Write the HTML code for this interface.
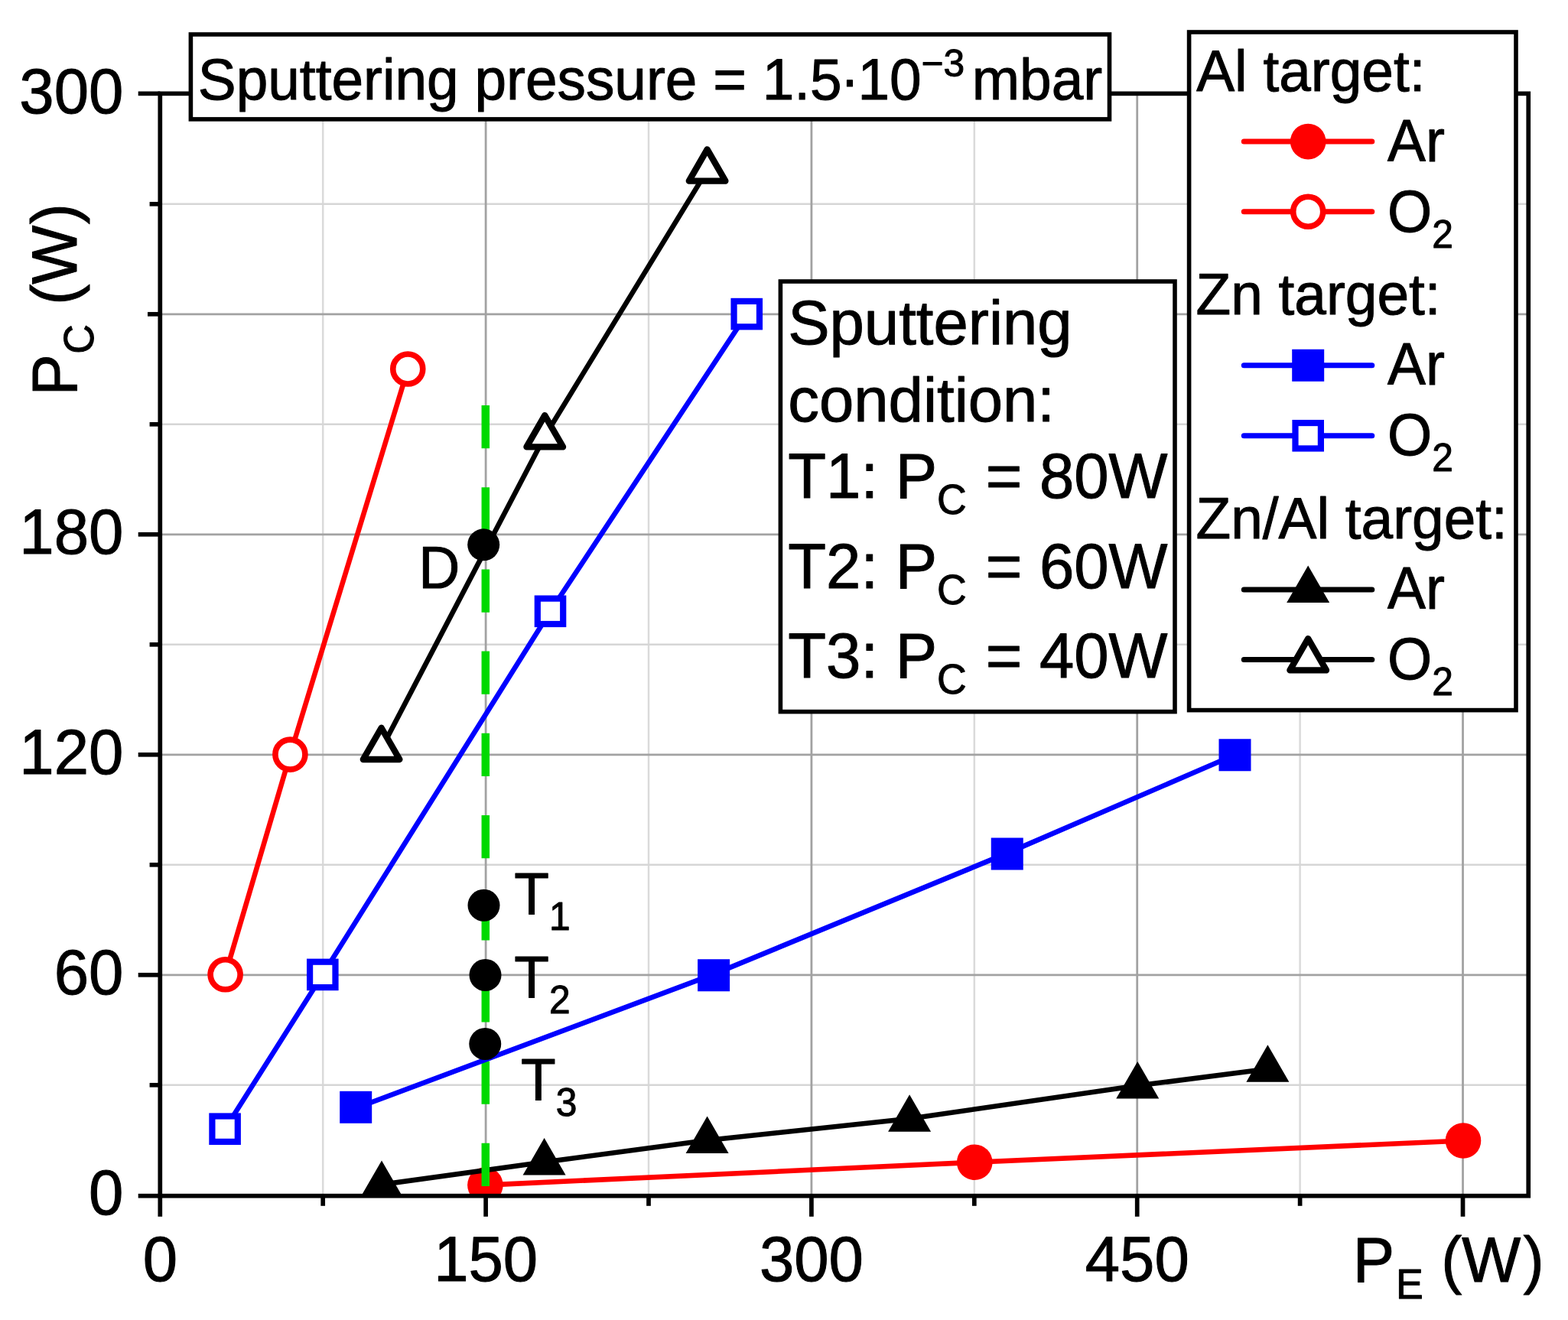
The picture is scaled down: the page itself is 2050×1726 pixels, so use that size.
<!DOCTYPE html>
<html lang="en">
<head>
<meta charset="utf-8">
<style>html,body{margin:0;padding:0;background:#fff;overflow:hidden;}svg{display:block;}</style>
</head>
<body>
<svg width="2050" height="1726" viewBox="0 0 2050 1726" font-family="'Liberation Sans', sans-serif">
<defs>
<clipPath id="plot"><rect x="209.3" y="122.35" width="1788.95" height="1441.35"/></clipPath>
</defs>
<rect width="2050" height="1726" fill="#fff"/>
<g clip-path="url(#plot)" fill="none">
<g stroke="#dadada" stroke-width="2.5">
<line x1="422.20" y1="122.35" x2="422.20" y2="1563.7"/>
<line x1="848.01" y1="122.35" x2="848.01" y2="1563.7"/>
<line x1="1273.81" y1="122.35" x2="1273.81" y2="1563.7"/>
<line x1="1699.62" y1="122.35" x2="1699.62" y2="1563.7"/>
</g>
<g stroke="#d6d6d6" stroke-width="2.4">
<line x1="209.3" y1="1418.80" x2="1998.25" y2="1418.80"/>
<line x1="209.3" y1="1130.80" x2="1998.25" y2="1130.80"/>
<line x1="209.3" y1="842.80" x2="1998.25" y2="842.80"/>
<line x1="209.3" y1="554.80" x2="1998.25" y2="554.80"/>
<line x1="209.3" y1="266.80" x2="1998.25" y2="266.80"/>
</g>
<g stroke="#a2a2a2" stroke-width="2.8">
<line x1="635.11" y1="122.35" x2="635.11" y2="1563.7"/>
<line x1="1060.91" y1="122.35" x2="1060.91" y2="1563.7"/>
<line x1="1486.71" y1="122.35" x2="1486.71" y2="1563.7"/>
<line x1="1912.52" y1="122.35" x2="1912.52" y2="1563.7"/>
<line x1="209.3" y1="1274.80" x2="1998.25" y2="1274.80"/>
<line x1="209.3" y1="986.80" x2="1998.25" y2="986.80"/>
<line x1="209.3" y1="698.80" x2="1998.25" y2="698.80"/>
<line x1="209.3" y1="410.80" x2="1998.25" y2="410.80"/>
</g>
</g>
<g clip-path="url(#plot)">
<polyline points="634.40,1549.60 1274.25,1519.75 1913.00,1491.50" fill="none" stroke="#f00" stroke-width="6.6" stroke-linejoin="round"/>
<circle cx="634.40" cy="1549.60" r="23.3" fill="#f00"/>
<circle cx="1274.25" cy="1519.75" r="23.3" fill="#f00"/>
<circle cx="1913.00" cy="1491.50" r="23.3" fill="#f00"/>
<polyline points="294.60,1274.30 379.40,986.60 533.25,482.50" fill="none" stroke="#f00" stroke-width="6.6" stroke-linejoin="round"/>
<circle cx="294.60" cy="1274.30" r="19.5" fill="#fff" stroke="#f00" stroke-width="7.6"/>
<circle cx="379.40" cy="986.60" r="19.5" fill="#fff" stroke="#f00" stroke-width="7.6"/>
<circle cx="533.25" cy="482.50" r="19.5" fill="#fff" stroke="#f00" stroke-width="7.6"/>
<polyline points="499.00,1548.90 711.60,1519.50 924.60,1491.00 1189.10,1462.75 1487.25,1419.50 1657.40,1397.75" fill="none" stroke="#000" stroke-width="6.6" stroke-linejoin="round"/>
<path transform="translate(499.00,1548.90)" d="M0,-31.4 L28,17 L-28,17 Z" fill="#000"/>
<path transform="translate(711.60,1519.50)" d="M0,-31.4 L28,17 L-28,17 Z" fill="#000"/>
<path transform="translate(924.60,1491.00)" d="M0,-31.4 L28,17 L-28,17 Z" fill="#000"/>
<path transform="translate(1189.10,1462.75)" d="M0,-31.4 L28,17 L-28,17 Z" fill="#000"/>
<path transform="translate(1487.25,1419.50)" d="M0,-31.4 L28,17 L-28,17 Z" fill="#000"/>
<path transform="translate(1657.40,1397.75)" d="M0,-31.4 L28,17 L-28,17 Z" fill="#000"/>
<line x1="634.8" y1="530" x2="634.8" y2="1563" stroke="#00d900" stroke-width="10.5" stroke-dasharray="56.25 50.94"/>
<polyline points="465.20,1449.00 933.10,1273.90 1316.75,1115.60 1614.50,987.00" fill="none" stroke="#00f" stroke-width="6.6" stroke-linejoin="round"/>
<rect x="444.20" y="1426.80" width="42" height="42" fill="#00f"/>
<rect x="912.10" y="1254.25" width="42" height="42" fill="#00f"/>
<rect x="1295.75" y="1095.50" width="42" height="42" fill="#00f"/>
<rect x="1593.50" y="966.25" width="42" height="42" fill="#00f"/>
<polyline points="294.10,1476.20 421.80,1274.40 719.50,799.30 976.25,410.60" fill="none" stroke="#00f" stroke-width="6.6" stroke-linejoin="round"/>
<rect x="277.40" y="1459.50" width="33.4" height="33.4" fill="#fff" stroke="#00f" stroke-width="8.2"/>
<rect x="405.10" y="1257.70" width="33.4" height="33.4" fill="#fff" stroke="#00f" stroke-width="8.2"/>
<rect x="702.80" y="782.60" width="33.4" height="33.4" fill="#fff" stroke="#00f" stroke-width="8.2"/>
<rect x="959.55" y="393.90" width="33.4" height="33.4" fill="#fff" stroke="#00f" stroke-width="8.2"/>
<polyline points="498.60,979.10 712.25,570.50 924.60,222.75" fill="none" stroke="#000" stroke-width="6.6" stroke-linejoin="round"/>
<path transform="translate(498.60,979.10)" d="M0,-27.4 L23.8,13.9 L-23.8,13.9 Z" fill="#fff" stroke="#000" stroke-width="8.3" stroke-linejoin="round"/>
<path transform="translate(712.25,570.50)" d="M0,-27.4 L23.8,13.9 L-23.8,13.9 Z" fill="#fff" stroke="#000" stroke-width="8.3" stroke-linejoin="round"/>
<path transform="translate(924.60,222.75)" d="M0,-27.4 L23.8,13.9 L-23.8,13.9 Z" fill="#fff" stroke="#000" stroke-width="8.3" stroke-linejoin="round"/>
<circle cx="632.20" cy="712.30" r="21" fill="#000"/>
<circle cx="632.50" cy="1183.75" r="21" fill="#000"/>
<circle cx="634.50" cy="1275.00" r="21" fill="#000"/>
<circle cx="634.25" cy="1365.00" r="21" fill="#000"/>
</g>
<g stroke="#000" stroke-width="5.7" fill="none">
<rect x="209.3" y="122.35" width="1788.95" height="1441.35"/>
<line x1="180.7" y1="1563.70" x2="209.3" y2="1563.70"/>
<line x1="180.7" y1="1274.80" x2="209.3" y2="1274.80"/>
<line x1="180.7" y1="986.80" x2="209.3" y2="986.80"/>
<line x1="180.7" y1="698.80" x2="209.3" y2="698.80"/>
<line x1="180.7" y1="122.35" x2="209.3" y2="122.35"/>
<line x1="193" y1="410.80" x2="209.3" y2="410.80"/>
<line x1="195.6" y1="1418.80" x2="209.3" y2="1418.80"/>
<line x1="195.6" y1="1130.80" x2="209.3" y2="1130.80"/>
<line x1="195.6" y1="842.80" x2="209.3" y2="842.80"/>
<line x1="195.6" y1="554.80" x2="209.3" y2="554.80"/>
<line x1="195.6" y1="266.80" x2="209.3" y2="266.80"/>
<line x1="209.30" y1="1563.7" x2="209.30" y2="1590.8"/>
<line x1="635.11" y1="1563.7" x2="635.11" y2="1590.8"/>
<line x1="1060.91" y1="1563.7" x2="1060.91" y2="1590.8"/>
<line x1="1486.71" y1="1563.7" x2="1486.71" y2="1590.8"/>
<line x1="1912.52" y1="1563.7" x2="1912.52" y2="1590.8"/>
<line x1="422.20" y1="1563.7" x2="422.20" y2="1576.8"/>
<line x1="848.01" y1="1563.7" x2="848.01" y2="1576.8"/>
<line x1="1273.81" y1="1563.7" x2="1273.81" y2="1576.8"/>
<line x1="1699.62" y1="1563.7" x2="1699.62" y2="1576.8"/>
</g>
<g fill="#000" stroke="#000" stroke-width="1.0" stroke-linejoin="round">
<text transform="translate(209.30,1675.30) scale(1,1.03)" font-size="81.5" text-anchor="middle">0</text>
<text transform="translate(635.11,1675.30) scale(1,1.03)" font-size="81.5" text-anchor="middle">150</text>
<text transform="translate(1060.91,1675.30) scale(1,1.03)" font-size="81.5" text-anchor="middle">300</text>
<text transform="translate(1486.71,1675.30) scale(1,1.03)" font-size="81.5" text-anchor="middle">450</text>
<text transform="translate(161.30,1587.60) scale(1,1.03)" font-size="81.5" text-anchor="end">0</text>
<text transform="translate(161.30,1299.60) scale(1,1.03)" font-size="81.5" text-anchor="end">60</text>
<text transform="translate(161.30,1011.60) scale(1,1.03)" font-size="81.5" text-anchor="end">120</text>
<text transform="translate(161.30,723.60) scale(1,1.03)" font-size="81.5" text-anchor="end">180</text>
<text transform="translate(161.30,147.60) scale(1,1.03)" font-size="81.5" text-anchor="end">300</text>
<text transform="translate(1768.80,1676.30) scale(1,1.03)" font-size="81.5">P<tspan x="56.30" dy="21.36" font-size="53.6">E</tspan><tspan dy="-21.36"> </tspan><tspan x="115.40" dy="0.00">(W</tspan><tspan dx="3.20">)</tspan></text>
<text transform="translate(100.00,517.40) rotate(-90) scale(1,1.03)" font-size="81.5">P<tspan x="54.70" dy="21.65" font-size="53.6">C</tspan><tspan dy="-21.65"> </tspan><tspan x="118.60" dy="0.00">(W</tspan><tspan dx="1.50">)</tspan></text>
</g>
<rect x="249.4" y="45" width="1201.10" height="110.90" fill="#fff" stroke="#000" stroke-width="5.6"/>
<g fill="#000" stroke="#000" stroke-width="1.0" stroke-linejoin="round">
<text transform="translate(258.80,130.00) scale(1,1.01)" font-size="74.8">Sputtering pressure = 1.5<tspan dx="-2.00">·</tspan><tspan dx="-2.10">10</tspan><tspan dy="-30.20" font-size="49.7">−3</tspan><tspan dy="30.20"> </tspan><tspan x="1012.00" dy="0.00">mbar</tspan></text>
</g>
<rect x="1020.4" y="368" width="515.60" height="562.60" fill="#fff" stroke="#000" stroke-width="5.6"/>
<g fill="#000" stroke="#000" stroke-width="1.0" stroke-linejoin="round">
<text transform="translate(1030.20,450.00) scale(1,1.01)" font-size="81.5">Sputtering</text>
<text transform="translate(1030.20,550.75) scale(1,1.01)" font-size="81.5">condition:</text>
<text transform="translate(1030.30,650.75) scale(1,1.03)" font-size="81.5">T1: P<tspan dy="20.39" font-size="53.6">C</tspan><tspan dx="2.40" dy="-20.39"> = 80W</tspan></text>
<text transform="translate(1030.30,768.75) scale(1,1.03)" font-size="81.5">T2: P<tspan dy="20.39" font-size="53.6">C</tspan><tspan dx="2.40" dy="-20.39"> = 60W</tspan></text>
<text transform="translate(1030.30,886.25) scale(1,1.03)" font-size="81.5">T3: P<tspan dy="20.39" font-size="53.6">C</tspan><tspan dx="2.40" dy="-20.39"> = 40W</tspan></text>
</g>
<rect x="1554.6" y="42" width="427.40" height="886.60" fill="#fff" stroke="#000" stroke-width="5.6"/>
<g fill="#000" stroke="#000" stroke-width="1.0" stroke-linejoin="round">
<text transform="translate(1564.20,118.75) scale(1,1.01)" font-size="74.8">Al target:</text>
<text transform="translate(1563.50,411.25) scale(1,1.01)" font-size="74.8">Zn target:</text>
<text transform="translate(1563.50,703.50) scale(1,1.01)" font-size="74.8">Zn/Al target:</text>
</g>
<line x1="1626.3" y1="185.1" x2="1793.8" y2="185.1" stroke="#f00" stroke-width="7" stroke-linecap="round"/>
<circle cx="1710.20" cy="185.10" r="23.3" fill="#f00"/>
<line x1="1626.3" y1="276.7" x2="1793.8" y2="276.7" stroke="#f00" stroke-width="7" stroke-linecap="round"/>
<circle cx="1710.20" cy="276.70" r="19.5" fill="#fff" stroke="#f00" stroke-width="7.6"/>
<line x1="1626.3" y1="477.75" x2="1793.8" y2="477.75" stroke="#00f" stroke-width="7" stroke-linecap="round"/>
<rect x="1689.20" y="456.75" width="42" height="42" fill="#00f"/>
<line x1="1626.3" y1="569.75" x2="1793.8" y2="569.75" stroke="#00f" stroke-width="7" stroke-linecap="round"/>
<rect x="1693.50" y="553.05" width="33.4" height="33.4" fill="#fff" stroke="#00f" stroke-width="8.2"/>
<line x1="1626.3" y1="771" x2="1793.8" y2="771" stroke="#000" stroke-width="7" stroke-linecap="round"/>
<path transform="translate(1710.20,771.00)" d="M0,-31.4 L28,17 L-28,17 Z" fill="#000"/>
<line x1="1626.3" y1="862.5" x2="1793.8" y2="862.5" stroke="#000" stroke-width="7" stroke-linecap="round"/>
<path transform="translate(1710.20,862.50)" d="M0,-27.4 L23.8,13.9 L-23.8,13.9 Z" fill="#fff" stroke="#000" stroke-width="8.3" stroke-linejoin="round"/>
<g fill="#000" stroke="#000" stroke-width="1.0" stroke-linejoin="round">
<text transform="translate(1814.00,211.25) scale(1,1.03)" font-size="74.8">Ar</text>
<text transform="translate(1814.00,303.00) scale(1,1.03)" font-size="74.8">O<tspan dy="20.39" font-size="49.7">2</tspan></text>
<text transform="translate(1814.00,503.00) scale(1,1.03)" font-size="74.8">Ar</text>
<text transform="translate(1814.00,595.00) scale(1,1.03)" font-size="74.8">O<tspan dy="20.39" font-size="49.7">2</tspan></text>
<text transform="translate(1814.00,796.00) scale(1,1.03)" font-size="74.8">Ar</text>
<text transform="translate(1814.00,888.00) scale(1,1.03)" font-size="74.8">O<tspan dy="20.39" font-size="49.7">2</tspan></text>
<text transform="translate(547.20,769.00) scale(1,1.03)" font-size="74.8">D</text>
<text transform="translate(672.30,1196.25) scale(1,1.03)" font-size="74.8">T<tspan dy="19.42" font-size="49.7">1</tspan></text>
<text transform="translate(672.30,1304.50) scale(1,1.03)" font-size="74.8">T<tspan dy="19.42" font-size="49.7">2</tspan></text>
<text transform="translate(681.00,1438.75) scale(1,1.03)" font-size="74.8">T<tspan dy="19.42" font-size="49.7">3</tspan></text>
</g>
</svg>
</body>
</html>
